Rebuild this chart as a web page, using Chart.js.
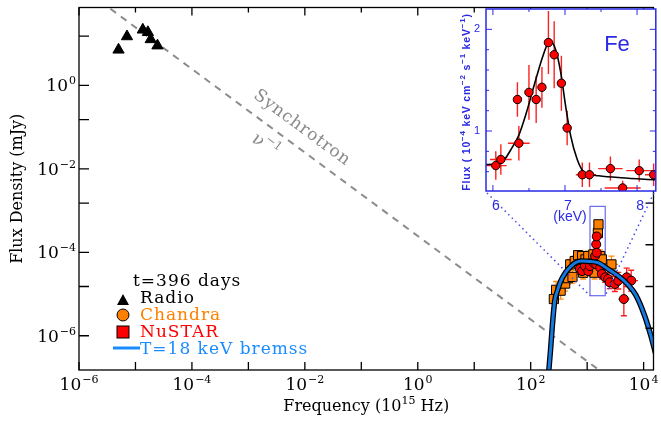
<!DOCTYPE html>
<html lang="en">
<head>
<meta charset="UTF-8" />
<title>Flux density vs frequency, t=396 days</title>
<style>
  body { margin: 0; background: #fff; }
  #wrap { position: relative; width: 661px; height: 421px; }
  canvas { position: absolute; left: 0; top: 0; }
</style>
</head>
<body>
<div id="wrap">
  <canvas id="main" width="661" height="421"></canvas>
  <canvas id="inset" width="661" height="421"></canvas>
</div>

<script src="https://cdn.jsdelivr.net/npm/chart.js"></script>
<script>
// values are log10(frequency / 1e15 Hz) and log10(flux density / mJy)
const radioLogNu = [-5.30, -5.15, -4.87, -4.78, -4.73, -4.61];
const radioLogF  = [0.85, 1.17, 1.33, 1.27, 1.10, 0.95];

const chandraLogNu = [2.41, 2.45, 2.53, 2.61, 2.66, 2.74, 2.70, 2.78, 2.84, 2.91, 2.93, 2.97, 3.02, 3.11, 3.13, 3.19, 3.20, 3.23, 3.26, 3.43];
const chandraLogF  = [-5.12, -4.90, -4.92, -4.75, -4.62, -4.59, -4.29, -4.21, -4.07, -4.09, -4.49, -4.17, -4.09, -4.05, -4.49, -3.54, -3.33, -4.09, -4.17, -4.29];
const chandraErrF  = [0.22, 0.20, 0.20, 0.18, 0.15, 0.15, 0.12, 0.12, 0.10, 0.10, 0.15, 0.12, 0.12, 0.12, 0.15, 0.08, 0.06, 0.15, 0.15, 0.20];
const chandraErrNu = [0.03, 0.03, 0.03, 0.03, 0.03, 0.04, 0.04, 0.04, 0.05, 0.05, 0.05, 0.06, 0.06, 0.07, 0.07, 0.02, 0.02, 0.08, 0.08, 0.12];

const nustarLogNu = [2.87, 2.91, 2.96, 3.02, 3.05, 3.11, 3.14, 3.16, 3.16, 3.17, 3.17, 3.23, 3.26, 3.32, 3.37, 3.40, 3.49, 3.55, 3.65, 3.70, 3.78];
const nustarLogF  = [-4.40, -4.45, -4.33, -4.45, -4.33, -4.25, -4.09, -4.29, -3.81, -4.01, -3.62, -4.37, -4.52, -4.60, -4.64, -4.72, -4.76, -4.68, -5.12, -4.60, -4.68];
const nustarErrF  = [0.12, 0.12, 0.10, 0.10, 0.10, 0.10, 0.10, 0.10, 0.08, 0.08, 0.08, 0.10, 0.12, 0.12, 0.15, 0.15, 0.18, 0.20, 0.40, 0.22, 0.25];
const nustarErrNu = [0.03, 0.03, 0.03, 0.03, 0.03, 0.03, 0.03, 0.03, 0.03, 0.03, 0.03, 0.04, 0.04, 0.05, 0.05, 0.06, 0.08, 0.08, 0.10, 0.12, 0.12];

const bremssLogNu = [2.321, 2.351, 2.381, 2.426, 2.474, 2.526, 2.614, 2.702, 2.789, 2.912, 3.053, 3.193, 3.368, 3.544, 3.719, 3.860, 4.018, 4.135, 4.211];
const bremssLogF  = [-6.83, -6.35, -5.80, -5.16, -4.92, -4.71, -4.49, -4.35, -4.25, -4.21, -4.22, -4.25, -4.40, -4.56, -4.77, -5.02, -5.52, -6.03, -6.42];

const synchLogNu = [-6.0, 4.3];
const synchLogF  = [2.39, -7.91];

// inset: Fe line, keV vs 1e-4 keV cm^-2 s^-1 keV^-1
const feKeV     = [6.04, 6.11, 6.34, 6.36, 6.50, 6.60, 6.68, 6.77, 6.85, 6.95, 7.03, 7.24, 7.34, 7.63, 7.80, 8.03, 8.23];
const feFlux    = [0.66, 0.72, 1.31, 0.88, 1.38, 1.31, 1.43, 1.87, 1.75, 1.47, 1.03, 0.57, 0.57, 0.63, 0.44, 0.61, 0.57];
const feErrFlux = [0.14, 0.15, 0.17, 0.17, 0.27, 0.23, 0.20, 0.31, 0.33, 0.27, 0.17, 0.12, 0.12, 0.12, 0.07, 0.11, 0.11];
const feErrKeV  = [0.15, 0.15, 0.02, 0.15, 0.02, 0.02, 0.02, 0.02, 0.02, 0.02, 0.02, 0.09, 0.09, 0.17, 0.25, 0.18, 0.12];
const feModelKeV  = [5.90, 6.05, 6.16, 6.26, 6.36, 6.46, 6.58, 6.69, 6.76, 6.80, 6.87, 6.94, 7.01, 7.08, 7.17, 7.26, 7.47, 7.78, 8.26];
const feModelFlux = [0.67, 0.675, 0.72, 0.83, 0.96, 1.17, 1.47, 1.73, 1.86, 1.88, 1.80, 1.58, 1.24, 0.95, 0.72, 0.60, 0.56, 0.54, 0.52];

const xLabelExp = [-6, -4, -2, 0, 2, 4];
const yLabelExp = [-6, -4, -2, 0];
const feTicks = [6, 7, 8];

// region of the main plot shown in the inset (log units)
const zoomLogNu = [3.05, 3.32];
const zoomLogF  = [-5.04, -2.90];

const SERIF = '"DejaVu Serif", serif';
const SANS = '"Liberation Sans", Arial, sans-serif';
const INSET_BLUE = '#2a2ae6';
const pw = v => Math.pow(10, v);
const logPts = (a, b) => a.map((v, i) => ({x: pw(v), y: pw(b[i])}));
const linPts = (a, b) => a.map((v, i) => ({x: v, y: b[i]}));

function drawPow(ctx, x, y, exp, align, big, small) {
  const sup = String(exp).replace('-', '\u2212');
  ctx.font = big + 'px ' + SERIF;
  const wb = ctx.measureText('10').width;
  ctx.font = small + 'px ' + SERIF;
  const ws = ctx.measureText(sup).width;
  const x0 = align === 'right' ? x - wb - ws - 1 : x - (wb + ws + 1) / 2;
  ctx.textAlign = 'left';
  ctx.textBaseline = 'alphabetic';
  ctx.font = big + 'px ' + SERIF;
  ctx.fillText('10', x0, y);
  ctx.font = small + 'px ' + SERIF;
  ctx.fillText(sup, x0 + wb + 1, y - 7);
}

function drawErr(ctx, x, y, lnu, lf, enu, ef, color, cap) {
  ctx.strokeStyle = color;
  ctx.lineWidth = 1.3;
  lnu.forEach((v, i) => {
    const px = x.getPixelForValue(pw(v)), py = y.getPixelForValue(pw(lf[i]));
    const y1 = y.getPixelForValue(pw(lf[i] - ef[i])), y2 = y.getPixelForValue(pw(lf[i] + ef[i]));
    const x1 = x.getPixelForValue(pw(v - enu[i])), x2 = x.getPixelForValue(pw(v + enu[i]));
    ctx.beginPath();
    ctx.moveTo(px, y1); ctx.lineTo(px, y2);
    ctx.moveTo(x1, py); ctx.lineTo(x2, py);
    ctx.moveTo(px - cap, y1); ctx.lineTo(px + cap, y1);
    ctx.moveTo(px - cap, y2); ctx.lineTo(px + cap, y2);
    ctx.stroke();
  });
}

const mainDecor = {
  id: 'mainDecor',
  beforeDatasetsDraw(chart) {
    const {ctx, chartArea: a, scales: {x, y}} = chart;
    ctx.save();
    ctx.beginPath();
    ctx.rect(a.left, a.top, a.right - a.left, a.bottom - a.top);
    ctx.clip();
    drawErr(ctx, x, y, chandraLogNu, chandraLogF, chandraErrNu, chandraErrF, '#ff8a10', 3);
    drawErr(ctx, x, y, nustarLogNu, nustarLogF, nustarErrNu, nustarErrF, '#ff1a1a', 3);
    // zoom box
    const bx0 = x.getPixelForValue(pw(zoomLogNu[0])), bx1 = x.getPixelForValue(pw(zoomLogNu[1]));
    const by0 = y.getPixelForValue(pw(zoomLogF[1])), by1 = y.getPixelForValue(pw(zoomLogF[0]));
    ctx.strokeStyle = '#6a6af0';
    ctx.lineWidth = 1.2;
    ctx.strokeRect(bx0, by0, bx1 - bx0, by1 - by0);
    ctx.restore();
  },
  afterDraw(chart) {
    const {ctx, chartArea: a, scales: {x, y}} = chart;
    ctx.save();
    ctx.strokeStyle = '#000';
    ctx.fillStyle = '#000';
    ctx.lineWidth = 1.3;
    ctx.strokeRect(a.left, a.top, a.right - a.left, a.bottom - a.top);

    // ticks
    ctx.beginPath();
    for (let d = -6; d <= 4; d++) {
      const px = x.getPixelForValue(pw(d));
      const len = d % 2 === 0 ? 8 : 5;
      ctx.moveTo(px, a.bottom); ctx.lineTo(px, a.bottom - 8);
      ctx.moveTo(px, a.top); ctx.lineTo(px, a.top + len);
    }
    for (let d = -6; d <= 0; d += 2) {
      const py = y.getPixelForValue(pw(d));
      ctx.moveTo(a.left, py); ctx.lineTo(a.left + 10, py);
    }
    for (let d = -4.82; d <= 1.9; d += 2) {
      const py = y.getPixelForValue(pw(d));
      ctx.moveTo(a.left, py); ctx.lineTo(a.left + 10, py);
    }
    for (let d = -5.82; d <= 1.9; d += 1) {
      const py = y.getPixelForValue(pw(d));
      ctx.moveTo(a.right, py); ctx.lineTo(a.right - 8, py);
    }
    ctx.stroke();

    // tick labels
    xLabelExp.forEach(e => drawPow(ctx, x.getPixelForValue(pw(e)), 390, e, 'center', 17, 11));
    yLabelExp.forEach(e => drawPow(ctx, 76, y.getPixelForValue(pw(e)) + 6, e, 'right', 17, 11));

    // axis titles
    ctx.font = '16px ' + SERIF;
    ctx.textBaseline = 'middle';
    const t1 = 'Frequency (10', t2 = ' Hz)';
    const w1 = ctx.measureText(t1).width, w2 = ctx.measureText(t2).width;
    ctx.font = '11px ' + SERIF;
    const ws = ctx.measureText('15').width;
    let tx = (a.left + a.right) / 2 - (w1 + ws + w2) / 2;
    ctx.textAlign = 'left';
    ctx.font = '16px ' + SERIF;
    ctx.fillText(t1, tx, 407);
    ctx.font = '11px ' + SERIF;
    ctx.fillText('15', tx + w1, 401);
    ctx.font = '16px ' + SERIF;
    ctx.fillText(t2, tx + w1 + ws, 407);

    ctx.save();
    ctx.translate(18, (a.top + a.bottom) / 2);
    ctx.rotate(-Math.PI / 2);
    ctx.textAlign = 'center';
    ctx.fillText('Flux Density (mJy)', 0, 0);
    ctx.restore();

    // synchrotron label along the dashed line
    const sx0 = x.getPixelForValue(pw(synchLogNu[0])), sy0 = y.getPixelForValue(pw(synchLogF[0]));
    const sx1 = x.getPixelForValue(pw(synchLogNu[1])), sy1 = y.getPixelForValue(pw(synchLogF[1]));
    const ang = Math.atan2(sy1 - sy0, sx1 - sx0);
    ctx.fillStyle = '#8a8a8a';
    ctx.save();
    ctx.translate(302, 128);
    ctx.rotate(ang);
    ctx.font = '17px ' + SERIF;
    ctx.letterSpacing = '0.8px';
    ctx.textAlign = 'center';
    ctx.fillText('Synchrotron', 0, 0);
    ctx.restore();
    ctx.save();
    ctx.translate(262, 141);
    ctx.rotate(ang);
    ctx.textAlign = 'left';
    ctx.font = '18px ' + SERIF;
    ctx.fillText('\u03bd', -9, 2);
    ctx.font = '12px ' + SERIF;
    ctx.fillText('\u22121', 2, -5);
    ctx.restore();

    // legend
    ctx.textAlign = 'left';
    ctx.textBaseline = 'alphabetic';
    ctx.font = '17px ' + SERIF;
    ctx.letterSpacing = '1px';
    ctx.fillStyle = '#000';
    ctx.fillText('t=396 days', 133, 286);
    ctx.fillText('Radio', 140, 303);
    ctx.fillStyle = '#ff8000';
    ctx.fillText('Chandra', 140, 320);
    ctx.fillStyle = '#ff0000';
    ctx.fillText('NuSTAR', 140, 337);
    ctx.fillStyle = '#1a8cff';
    ctx.fillText('T=18 keV bremss', 140, 354);
    ctx.letterSpacing = '0px';

    ctx.fillStyle = '#000';
    ctx.beginPath();
    ctx.moveTo(123, 294); ctx.lineTo(129, 305); ctx.lineTo(117, 305); ctx.closePath();
    ctx.fill();
    ctx.beginPath();
    ctx.arc(123, 315, 6, 0, Math.PI * 2);
    ctx.fillStyle = '#ff8000';
    ctx.fill();
    ctx.lineWidth = 1;
    ctx.stroke();
    ctx.fillStyle = '#ff0000';
    ctx.fillRect(117, 326, 12, 12);
    ctx.strokeRect(117, 326, 12, 12);
    ctx.strokeStyle = '#1a8cff';
    ctx.lineWidth = 3;
    ctx.beginPath();
    ctx.moveTo(113, 348); ctx.lineTo(140, 348);
    ctx.stroke();
    ctx.restore();
  }
};

const mainChart = new Chart(document.getElementById('main'), {
  type: 'scatter',
  data: {
    datasets: [
      { data: logPts(bremssLogNu, bremssLogF), showLine: true, borderColor: '#1479e0', borderWidth: 3,
        pointRadius: 0, cubicInterpolationMode: 'monotone' },
      { data: logPts(bremssLogNu, bremssLogF), showLine: true, borderColor: '#000', borderWidth: 5.5,
        pointRadius: 0, cubicInterpolationMode: 'monotone' },
      { data: logPts(nustarLogNu, nustarLogF), pointStyle: 'circle', pointRadius: 4.5,
        backgroundColor: '#ff0000', borderColor: '#000', borderWidth: 1 },
      { data: logPts(chandraLogNu, chandraLogF), pointStyle: 'rect', pointRadius: 6.5,
        backgroundColor: '#ff8000', borderColor: '#000', borderWidth: 1 },
      { data: logPts(radioLogNu, radioLogF), pointStyle: 'triangle', pointRadius: 6.5,
        backgroundColor: '#000', borderColor: '#000', borderWidth: 1 },
      { data: logPts(synchLogNu, synchLogF), showLine: true, borderColor: '#8c8c8c', borderWidth: 2,
        borderDash: [7, 6], pointRadius: 0 }
    ]
  },
  options: {
    responsive: false,
    animation: false,
    devicePixelRatio: 1,
    layout: { padding: { left: 79, top: 5, right: 2, bottom: 51 } },
    plugins: { legend: { display: false }, tooltip: { enabled: false } },
    scales: {
      x: { type: 'logarithmic', min: pw(-6), max: pw(4.175), display: false },
      y: { type: 'logarithmic', min: pw(-6.82), max: pw(1.864), display: false }
    }
  },
  plugins: [mainDecor]
});

const insetDecor = {
  id: 'insetDecor',
  beforeDatasetsDraw(chart) {
    const {ctx, chartArea: a, scales: {x, y}} = chart;
    ctx.save();
    ctx.fillStyle = '#fff';
    ctx.fillRect(a.left, a.top, a.right - a.left, a.bottom - a.top);
    ctx.beginPath();
    ctx.rect(a.left, a.top, a.right - a.left, a.bottom - a.top);
    ctx.clip();
    ctx.strokeStyle = '#ff2020';
    ctx.lineWidth = 1.4;
    feKeV.forEach((v, i) => {
      const px = x.getPixelForValue(v), py = y.getPixelForValue(feFlux[i]);
      ctx.beginPath();
      ctx.moveTo(px, y.getPixelForValue(feFlux[i] - feErrFlux[i]));
      ctx.lineTo(px, y.getPixelForValue(feFlux[i] + feErrFlux[i]));
      ctx.moveTo(x.getPixelForValue(v - feErrKeV[i]), py);
      ctx.lineTo(x.getPixelForValue(v + feErrKeV[i]), py);
      ctx.stroke();
    });
    ctx.restore();
  },
  afterDraw(chart) {
    const {ctx, chartArea: a, scales: {x, y}} = chart;
    ctx.save();
    ctx.strokeStyle = INSET_BLUE;
    ctx.fillStyle = INSET_BLUE;
    ctx.lineWidth = 1.5;
    ctx.strokeRect(a.left, a.top, a.right - a.left, a.bottom - a.top);

    ctx.lineWidth = 1;
    ctx.beginPath();
    for (let k = 6; k <= 8.2; k += 0.5) {
      const px = x.getPixelForValue(k), len = Number.isInteger(k) ? 6 : 3;
      ctx.moveTo(px, a.bottom); ctx.lineTo(px, a.bottom - len);
      ctx.moveTo(px, a.top); ctx.lineTo(px, a.top + len);
    }
    for (let f = 0.6; f <= 2.15; f += 0.2) {
      const py = y.getPixelForValue(f), len = Math.abs(f - Math.round(f)) < 0.01 ? 6 : 3;
      ctx.moveTo(a.left, py); ctx.lineTo(a.left + len, py);
      ctx.moveTo(a.right, py); ctx.lineTo(a.right - len, py);
    }
    ctx.stroke();

    ctx.font = '11px ' + SANS;
    ctx.textAlign = 'center';
    ctx.textBaseline = 'middle';
    [1, 2].forEach(f => ctx.fillText(String(f), a.left - 9, y.getPixelForValue(f)));
    ctx.font = '14px ' + SANS;
    feTicks.forEach(k => ctx.fillText(String(k), x.getPixelForValue(k) + 3, a.bottom + 15));
    ctx.fillText('(keV)', x.getPixelForValue(7) + 5, a.bottom + 26);
    ctx.font = '22px ' + SANS;
    ctx.fillText('Fe', 617, 45);

    // rotated y title with superscripts
    const parts = [['Flux ( 10', 0], ['\u22124', 1], [' keV cm', 0], ['\u22122', 1], [' s', 0], ['\u22121', 1], [' keV', 0], ['\u22121', 1], [')', 0]];
    const fontOf = s => s ? 'bold 8px ' + SANS : 'bold 10.5px ' + SANS;
    ctx.letterSpacing = '0.8px';
    let total = 0;
    parts.forEach(p => { ctx.font = fontOf(p[1]); total += ctx.measureText(p[0]).width; });
    ctx.save();
    ctx.translate(466, (a.top + a.bottom) / 2 + 2);
    ctx.rotate(-Math.PI / 2);
    ctx.textAlign = 'left';
    ctx.textBaseline = 'alphabetic';
    let cx = -total / 2;
    parts.forEach(p => {
      ctx.font = fontOf(p[1]);
      ctx.fillText(p[0], cx, p[1] ? -1 : 4);
      cx += ctx.measureText(p[0]).width;
    });
    ctx.restore();
    ctx.letterSpacing = '0px';

    // dotted connectors to the zoom box of the main plot
    const mx = mainChart.scales.x, my = mainChart.scales.y;
    const bx0 = mx.getPixelForValue(pw(zoomLogNu[0])), bx1 = mx.getPixelForValue(pw(zoomLogNu[1]));
    const by1 = my.getPixelForValue(pw(zoomLogF[0]));
    ctx.strokeStyle = '#4848ee';
    ctx.lineWidth = 1.5;
    ctx.setLineDash([1.5, 3.5]);
    ctx.beginPath();
    ctx.moveTo(a.left + 1, a.bottom + 2); ctx.lineTo(bx0, by1);
    ctx.moveTo(a.right - 2, a.bottom + 2); ctx.lineTo(bx1, by1);
    ctx.stroke();
    ctx.restore();
  }
};

new Chart(document.getElementById('inset'), {
  type: 'scatter',
  data: {
    datasets: [
      { data: linPts(feKeV, feFlux), pointStyle: 'circle', pointRadius: 4.2,
        backgroundColor: '#ff0000', borderColor: '#000', borderWidth: 1 },
      { data: linPts(feModelKeV, feModelFlux), showLine: true, borderColor: '#000', borderWidth: 1.6,
        pointRadius: 0, cubicInterpolationMode: 'monotone' }
    ]
  },
  options: {
    responsive: false,
    animation: false,
    devicePixelRatio: 1,
    layout: { padding: { left: 486, top: 9, right: 3, bottom: 230 } },
    plugins: { legend: { display: false }, tooltip: { enabled: false } },
    scales: {
      x: { type: 'linear', min: 5.904, max: 8.26, display: false },
      y: { type: 'linear', min: 0.41, max: 2.20, display: false }
    }
  },
  plugins: [insetDecor]
});
</script>
</body>
</html>
